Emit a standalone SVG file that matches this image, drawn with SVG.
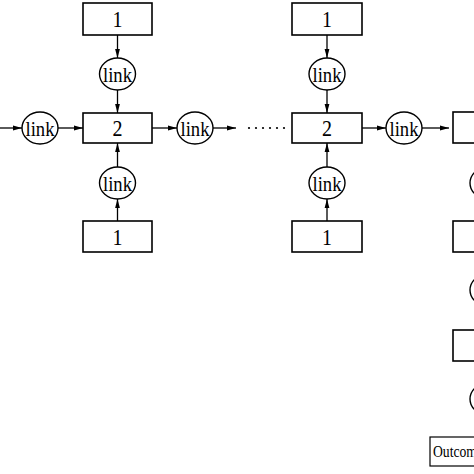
<svg xmlns="http://www.w3.org/2000/svg" width="474" height="474" viewBox="0 0 474 474">
<style>
.box{fill:#fff;stroke:#000;stroke-width:1.6}
.lk{fill:#fff;stroke:#000;stroke-width:1.4}
.ln{fill:none;stroke:#000;stroke-width:1.3}
.num{font-family:"Liberation Serif","DejaVu Serif",serif;font-size:23px;text-anchor:middle;fill:#000}
.lt{font-family:"Liberation Serif","DejaVu Serif",serif;font-size:22px;text-anchor:middle;fill:#000}
.ot{font-family:"Liberation Serif","DejaVu Serif",serif;font-size:16px;fill:#000}
</style>
<defs>
<marker id="ah" markerUnits="userSpaceOnUse" markerWidth="9" markerHeight="6" refX="9" refY="3" orient="auto">
<path d="M0,0.6 L9,3 L0,5.4 z" fill="#000"/>
</marker>
</defs>
<rect width="474" height="474" fill="#fff"/>
<g id="connectors">
<line class="ln" x1="117.5" y1="35" x2="117.5" y2="58" marker-end="url(#ah)"/>
<line class="ln" x1="117.5" y1="90" x2="117.5" y2="113" marker-end="url(#ah)"/>
<line class="ln" x1="117.5" y1="221" x2="117.5" y2="199" marker-end="url(#ah)"/>
<line class="ln" x1="117.5" y1="167" x2="117.5" y2="143" marker-end="url(#ah)"/>
<line class="ln" x1="0" y1="128" x2="22" y2="128" marker-end="url(#ah)"/>
<line class="ln" x1="58" y1="128" x2="83" y2="128" marker-end="url(#ah)"/>
<line class="ln" x1="152" y1="128" x2="177" y2="128" marker-end="url(#ah)"/>
<line class="ln" x1="213" y1="128" x2="236" y2="128" marker-end="url(#ah)"/>
<line class="ln" x1="327" y1="35" x2="327" y2="58" marker-end="url(#ah)"/>
<line class="ln" x1="327" y1="90" x2="327" y2="113" marker-end="url(#ah)"/>
<line class="ln" x1="327" y1="221" x2="327" y2="199" marker-end="url(#ah)"/>
<line class="ln" x1="327" y1="167" x2="327" y2="143" marker-end="url(#ah)"/>
<line class="ln" x1="362" y1="128" x2="386" y2="128" marker-end="url(#ah)"/>
<line class="ln" x1="422" y1="128" x2="449" y2="128" marker-end="url(#ah)"/>
<g fill="#000">
<circle cx="249" cy="128" r="1.1"/><circle cx="256" cy="128" r="1.1"/><circle cx="263" cy="128" r="1.1"/>
<circle cx="270" cy="128" r="1.1"/><circle cx="277" cy="128" r="1.1"/><circle cx="284" cy="128" r="1.1"/>
</g>
</g>
<g id="nA_top"><rect class="box" x="83" y="3" width="69" height="32"/><text class="num" x="117.5" y="27" textLength="10" lengthAdjust="spacingAndGlyphs">1</text></g>
<g id="lA_top"><ellipse class="lk" cx="117.5" cy="74" rx="18" ry="16"/><text class="lt" x="117.5" y="81.5" textLength="29" lengthAdjust="spacingAndGlyphs">link</text></g>
<g id="nA_mid"><rect class="box" x="83" y="113" width="69" height="30"/><text class="num" x="117.5" y="136" textLength="10" lengthAdjust="spacingAndGlyphs">2</text></g>
<g id="lA_bot"><ellipse class="lk" cx="117.5" cy="183" rx="18" ry="16"/><text class="lt" x="117.5" y="190.5" textLength="29" lengthAdjust="spacingAndGlyphs">link</text></g>
<g id="nA_bot"><rect class="box" x="83" y="221" width="69" height="31"/><text class="num" x="117.5" y="245" textLength="10" lengthAdjust="spacingAndGlyphs">1</text></g>
<g id="lA_left"><ellipse class="lk" cx="40" cy="128" rx="18" ry="16"/><text class="lt" x="40" y="135.5" textLength="29" lengthAdjust="spacingAndGlyphs">link</text></g>
<g id="lA_right"><ellipse class="lk" cx="195" cy="128" rx="18" ry="16"/><text class="lt" x="195" y="135.5" textLength="29" lengthAdjust="spacingAndGlyphs">link</text></g>
<g id="nB_top"><rect class="box" x="292" y="3" width="70" height="32"/><text class="num" x="327" y="27" textLength="10" lengthAdjust="spacingAndGlyphs">1</text></g>
<g id="lB_top"><ellipse class="lk" cx="327" cy="74" rx="18" ry="16"/><text class="lt" x="327" y="81.5" textLength="29" lengthAdjust="spacingAndGlyphs">link</text></g>
<g id="nB_mid"><rect class="box" x="292" y="113" width="70" height="30"/><text class="num" x="327" y="136" textLength="10" lengthAdjust="spacingAndGlyphs">2</text></g>
<g id="lB_bot"><ellipse class="lk" cx="327" cy="183" rx="18" ry="16"/><text class="lt" x="327" y="190.5" textLength="29" lengthAdjust="spacingAndGlyphs">link</text></g>
<g id="nB_bot"><rect class="box" x="292" y="221" width="70" height="31"/><text class="num" x="327" y="245" textLength="10" lengthAdjust="spacingAndGlyphs">1</text></g>
<g id="lB_right"><ellipse class="lk" cx="404" cy="128" rx="18" ry="16"/><text class="lt" x="404" y="135.5" textLength="29" lengthAdjust="spacingAndGlyphs">link</text></g>
<g id="nC1"><rect class="box" x="453" y="112" width="70" height="31"/></g>
<g id="lC1"><ellipse class="lk" cx="488" cy="183" rx="18" ry="16"/></g>
<g id="nC2"><rect class="box" x="453" y="221" width="70" height="31"/></g>
<g id="lC2"><ellipse class="lk" cx="488" cy="290" rx="18" ry="16"/></g>
<g id="nC3"><rect class="box" x="453" y="330" width="70" height="31"/></g>
<g id="lC3"><ellipse class="lk" cx="488" cy="399" rx="18" ry="16"/></g>
<g id="outcome"><rect class="box" x="430" y="437" width="116" height="29" style="stroke-width:1.2"/><text class="ot" x="433" y="457" textLength="50" lengthAdjust="spacingAndGlyphs">Outcome</text></g>
</svg>
